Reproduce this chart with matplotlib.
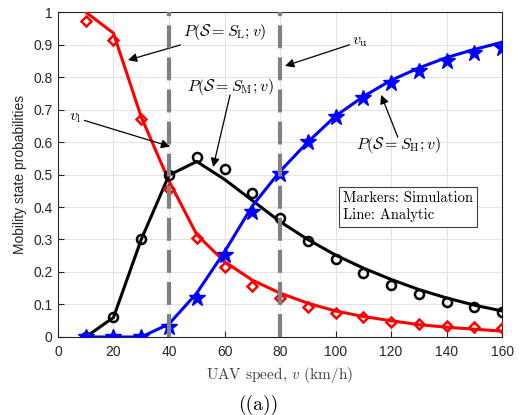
import matplotlib
matplotlib.use('Agg')
import matplotlib.pyplot as plt

plt.rcParams['mathtext.fontset'] = 'cm'
plt.rcParams['font.family'] = ['Liberation Sans', 'DejaVu Sans']

# UAV speed grid (km/h)
speeds = [10, 20, 30, 40, 50, 60, 70, 80, 90, 100, 110, 120, 130, 140, 150, 160]

# low mobility state
low_sim = [0.973, 0.914, 0.670, 0.455, 0.305, 0.216, 0.157, 0.120,
           0.093, 0.075, 0.060, 0.047, 0.039, 0.034, 0.031, 0.027]
low_ana = [1.000, 0.935, 0.677, 0.480, 0.315, 0.232, 0.175, 0.135,
           0.104, 0.080, 0.063, 0.050, 0.038, 0.030, 0.024, 0.018]

# medium mobility state
mid_sim = [0.000, 0.060, 0.300, 0.500, 0.553, 0.517, 0.443, 0.366,
           0.296, 0.239, 0.196, 0.160, 0.131, 0.109, 0.093, 0.077]
mid_ana = [0.000, 0.060, 0.300, 0.498, 0.540, 0.485, 0.420, 0.355,
           0.300, 0.252, 0.212, 0.177, 0.146, 0.120, 0.098, 0.080]

# high mobility state
high_sim = [0.000, 0.000, 0.000, 0.031, 0.120, 0.252, 0.386, 0.503,
            0.599, 0.676, 0.734, 0.783, 0.820, 0.848, 0.873, 0.888]
high_ana = [0.000, 0.000, 0.000, 0.040, 0.135, 0.262, 0.403, 0.510,
            0.600, 0.680, 0.740, 0.790, 0.828, 0.860, 0.885, 0.907]

# speed thresholds
v_low = 40
v_up = 80

fig = plt.figure(figsize=(5.22, 4.15), dpi=100)
ax = fig.add_axes([0.111, 0.188, 0.851, 0.783])

# analytic curves
ax.plot(speeds, low_ana, color='red', lw=2.2, zorder=3)
ax.plot(speeds, mid_ana, color='black', lw=2.2, zorder=3)
ax.plot(speeds, high_ana, color='blue', lw=2.2, zorder=3)

# simulation markers
ax.plot(speeds, low_sim, ls='none', marker='D', ms=5.5, mfc='none', mec='red', mew=1.8, zorder=4)
ax.plot(speeds, mid_sim, ls='none', marker='o', ms=6.5, mfc='none', mec='black', mew=1.8, zorder=4)
ax.plot(speeds, high_sim, ls='none', marker='*', ms=12, color='blue', zorder=4)

# threshold markers
for v in (v_low, v_up):
    ax.axvline(v, color='#808080', lw=3, dashes=(5.5, 2.2), zorder=5)

ax.set_xlim(0, 160)
ax.set_ylim(0, 1)
ax.set_xticks(range(0, 161, 20))
ax.set_yticks([i / 10 for i in range(11)])
ax.set_yticklabels(['0', '0.1', '0.2', '0.3', '0.4', '0.5', '0.6', '0.7', '0.8', '0.9', '1'])
ax.tick_params(direction='in', labelsize=10, colors='#262626', length=4)
ax.tick_params(axis='x', pad=6)
ax.tick_params(axis='y', pad=4)
ax.grid(True, color='#e3e3e3', lw=0.8)
ax.set_axisbelow(True)
for s in ax.spines.values():
    s.set_color('#262626')
    s.set_linewidth(0.8)

ax.set_ylabel('Mobility state probabilities', fontsize=10, color='#262626', labelpad=4)
ax.set_xlabel(r'UAV speed, $v$ (km/h)', fontsize=11, color='#404040',
              fontfamily='cmr10', labelpad=4)

arrow = dict(arrowstyle='-|>', color='black', lw=0.9, mutation_scale=13, shrinkA=0, shrinkB=0)
ax.annotate(r'$P(\mathcal{S}=S_{\mathrm{L}};v)$', xy=(25.2, 0.852), xytext=(45, 0.938),
            fontsize=11.5, ha='left', va='center', arrowprops=arrow)
ax.text(46.5, 0.77, r'$P(\mathcal{S}=S_{\mathrm{M}};v)$', fontsize=11.5, ha='left', va='center')
ax.annotate('', xy=(55.9, 0.523), xytext=(62, 0.745), arrowprops=arrow)
ax.annotate(r'$v_{\mathrm{l}}$', xy=(40.4, 0.586), xytext=(4, 0.675),
            fontsize=11.5, ha='left', va='center', arrowprops=arrow)
ax.annotate(r'$v_{\mathrm{u}}$', xy=(81.8, 0.834), xytext=(106, 0.91),
            fontsize=11.5, ha='left', va='center', arrowprops=arrow)
ax.annotate('', xy=(116.4, 0.745), xytext=(122.4, 0.615), arrowprops=arrow)
ax.text(122.8, 0.59, r'$P(\mathcal{S}=S_{\mathrm{H}};v)$', fontsize=11.5, ha='center', va='center')

ax.text(102.7, 0.448, 'Markers: Simulation\nLine: Analytic', fontfamily='cmr10', fontsize=10.5,
        ha='left', va='top', linespacing=1.3,
        bbox=dict(boxstyle='square,pad=0.3', fc='white', ec='#404040', lw=0.8), zorder=6)

fig.text(0.494, 0.024, '((a))', fontfamily='cmr10', fontsize=14, ha='center', va='center')

fig.savefig('out.png', dpi=100)
